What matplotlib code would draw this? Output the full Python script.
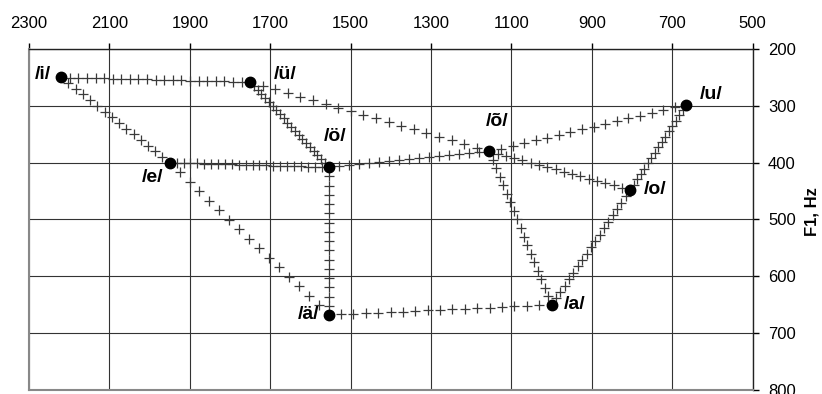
import numpy as np
import matplotlib
matplotlib.use("Agg")
import matplotlib.pyplot as plt

plt.rcParams['font.family'] = ['Liberation Sans', 'DejaVu Sans']

# Vowel formant positions (F2, F1 in Hz)
vowels = ["/i/", "/ü/", "/e/", "/ö/", "/ä/", "/õ/", "/a/", "/o/", "/u/"]
f2 = [2220, 1750, 1950, 1555, 1555, 1155, 1000, 805, 665]
f1 = [250, 258, 400, 408, 668, 380, 650, 448, 298]

# Transitions between vowels (start, end) and number of "+" samples
trans_start = ["/i/", "/i/", "/e/", "/e/", "/ü/", "/ü/", "/õ/", "/ö/", "/õ/", "/õ/", "/a/", "/o/", "/ö/", "/ä/"]
trans_end   = ["/ü/", "/e/", "/ä/", "/ö/", "/ö/", "/õ/", "/o/", "/õ/", "/u/", "/a/", "/o/", "/u/", "/ä/", "/a/"]
trans_n     = [23, 16, 17, 24, 22, 20, 18, 17, 18, 19, 19, 17, 17, 19]

# Label offsets (points) and alignment
lab_dx = [-7.2, 17, -4.3, 5, -6.5, 5.4, 8.6, 10, 9.4]
lab_dy = [2.2, 5.4, -11, 22, 0, 21.6, 0, 0, 7.6]
lab_ha = ["right", "left", "right", "center", "right", "center", "left", "left", "left"]

xticks = [2300, 2100, 1900, 1700, 1500, 1300, 1100, 900, 700, 500]
yticks = [200, 300, 400, 500, 600, 700, 800]

fig = plt.figure(figsize=(8.22, 3.94), dpi=100)
ax = fig.add_axes([29/822, 1-390/394, (752.7-29)/822, (390-49)/394])
ax.set_xlim(2300, 500)
ax.set_ylim(800, 200)

idx = {v: i for i, v in enumerate(vowels)}
for s, e, n in zip(trans_start, trans_end, trans_n):
    a, b = idx[s], idx[e]
    xs = np.linspace(f2[a], f2[b], n)
    ys = np.linspace(f1[a], f1[b], n)
    ax.plot(xs, ys, linestyle='none', marker='+', markersize=6.5,
            markeredgewidth=0.9, color='#3a3a3a', zorder=3)

ax.plot(f2, f1, linestyle='none', marker='o', markersize=7.5, color='black', zorder=4)

for v, x, y, dx, dy, ha in zip(vowels, f2, f1, lab_dx, lab_dy, lab_ha):
    ax.annotate(v, (x, y), xytext=(dx, dy), textcoords='offset points',
                ha=ha, va='center', fontsize=14, fontweight='bold', zorder=5)

ax.set_xticks(xticks)
ax.set_yticks(yticks)
ax.xaxis.tick_top()
ax.yaxis.tick_right()
ax.tick_params(axis='x', which='both', direction='out', length=4.5, width=1,
               pad=8.5, labelsize=12, top=True, bottom=False)
ax.tick_params(axis='y', which='both', direction='out', length=4.5, width=1,
               pad=6.5, labelsize=12, right=True, left=False)
ax.grid(True, color='#333333', linewidth=0.8, zorder=1)
ax.set_axisbelow(True)

for side in ['left', 'bottom']:
    ax.spines[side].set_color('#888888')
    ax.spines[side].set_linewidth(1.5)
for side in ['top', 'right']:
    ax.spines[side].set_color('#222222')
    ax.spines[side].set_linewidth(1.0)

fig.text(812/822, 1-212/394, "F1, Hz", rotation=90, ha='center', va='center',
         fontsize=12, fontweight='bold')

fig.savefig("out.png", dpi=100)
